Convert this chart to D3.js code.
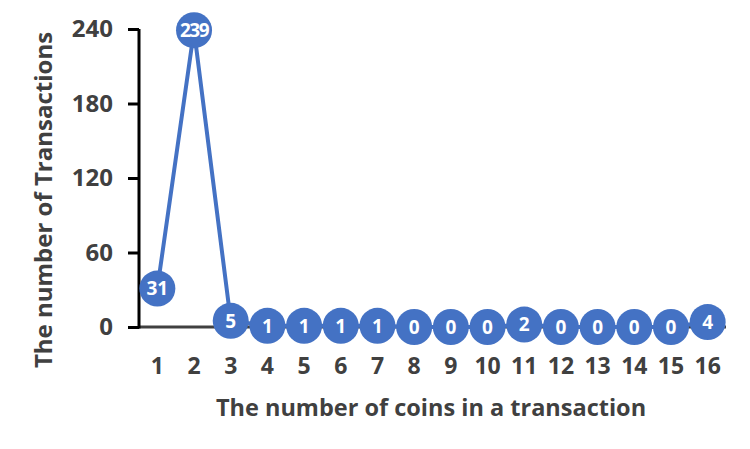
<!DOCTYPE html>
<html><head><meta charset="utf-8">
<script src="https://cdn.jsdelivr.net/npm/d3@7"></script>
<style>body{margin:0;background:#fff}</style>
</head><body>
<svg id="c" width="750" height="449"></svg>
<script>
const categories = ["1","2","3","4","5","6","7","8","9","10","11","12","13","14","15","16"];
const values = [31,239,5,1,1,1,1,0,0,0,2,0,0,0,0,4];
const yTicks = [0,60,120,180,240];
const xTitle = "The number of coins in a transaction";
const yTitle = "The number of Transactions";

(function () {
const svg = d3.select("#c");
const font = "'Open Sans', sans-serif";
const pl = 139, pr = 726, pt = 29, pb = 327;
const x = d3.scaleBand().domain(categories).range([pl, pr]);
const y = d3.scaleLinear().domain([0, 240]).range([pb, pt]);
const blue = "#4472C4", txt = "#404040";

const xa = svg.append("g").attr("transform", `translate(0,${pb})`)
  .call(d3.axisBottom(x).tickSize(0).tickPadding(0));
xa.select(".domain").attr("stroke", "#404040").attr("stroke-width", 3).attr("d", `M${pl},0H${pr}`);
xa.selectAll("text").attr("dy", null).attr("y", 47)
  .attr("font-family", font).attr("font-weight", 700).attr("font-size", 23).attr("fill", txt);

const ya = svg.append("g").attr("transform", `translate(${pl},0)`)
  .call(d3.axisLeft(y).tickValues(yTicks).tickSize(11).tickPadding(15));
ya.select(".domain").attr("stroke", "#000").attr("stroke-width", 3).attr("d", `M0,${pb+1.5}V${pt}`);
ya.selectAll(".tick line").attr("stroke", "#000").attr("stroke-width", 3);
ya.selectAll("text").attr("font-family", font).attr("font-weight", 700).attr("font-size", 24).attr("fill", txt);

const cx = d => x(d) + x.bandwidth() / 2;
const line = d3.line().x((d, i) => cx(categories[i])).y(d => y(d));
svg.append("path").datum(values).attr("d", line).attr("fill", "none")
  .attr("stroke", blue).attr("stroke-width", 4).attr("stroke-linejoin", "round");

const g = svg.append("g").selectAll("g").data(values).join("g")
  .attr("transform", (d, i) => `translate(${cx(categories[i])},${y(d)})`);
g.append("circle").attr("r", 18).attr("fill", blue);
g.append("text").text(d => d).attr("text-anchor", "middle").attr("dy", "0.36em")
  .attr("font-family", font).attr("font-weight", 700).attr("font-size", 19).attr("fill", "#fff")
  .attr("letter-spacing", d => String(d).length > 2 ? -1.5 : 0);

svg.append("text").text(xTitle).attr("x", 431).attr("y", 416)
  .attr("text-anchor", "middle").attr("font-family", font).attr("font-weight", 700)
  .attr("font-size", 23.5).attr("fill", txt);
svg.append("text").text(yTitle).attr("transform", `translate(52,200) rotate(-90)`)
  .attr("text-anchor", "middle").attr("font-family", font).attr("font-weight", 700)
  .attr("font-size", 24).attr("fill", txt);
})();
</script>
</body></html>
